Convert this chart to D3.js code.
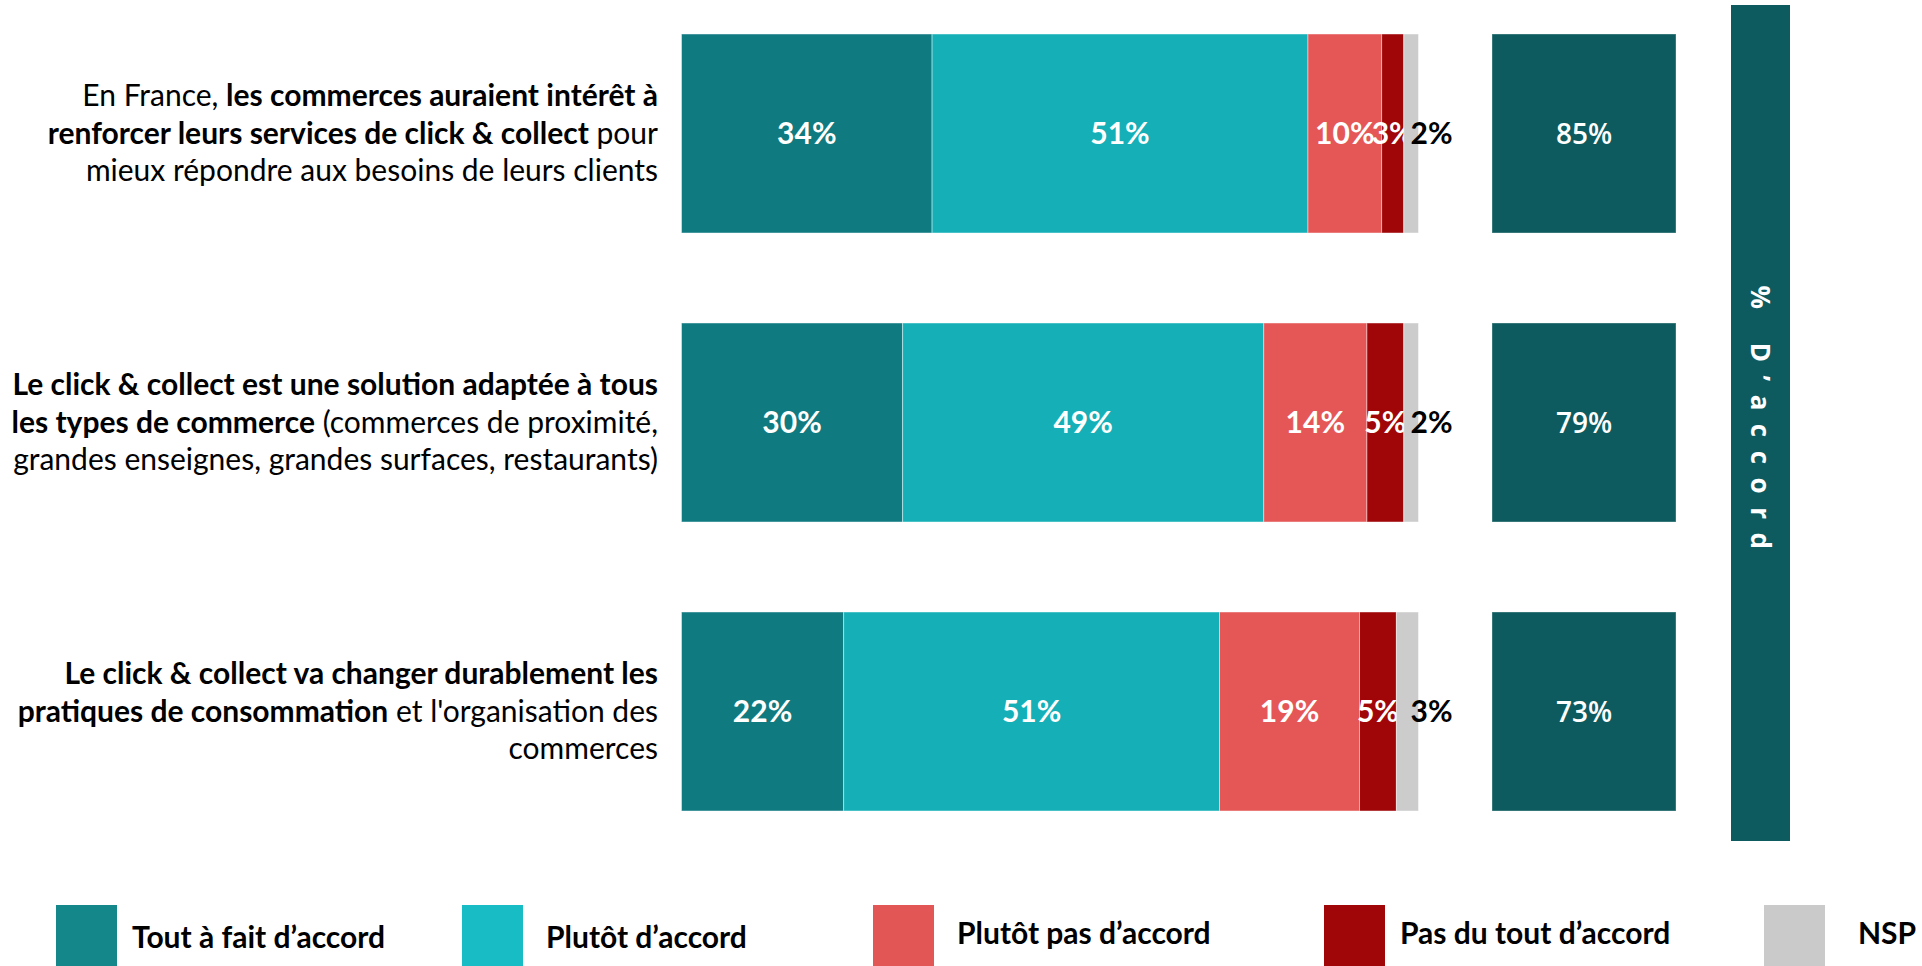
<!DOCTYPE html>
<html>
<head>
<meta charset="utf-8">
<script src="https://cdn.jsdelivr.net/npm/d3@7"></script>
<style>
    body { margin: 0; background: #ffffff; }
    svg text { white-space: pre; }
</style>
</head>
<body>
<div id="click_collect_chart"></div>
<script>
// answer categories (legend order)
const answers = ["Tout à fait d’accord", "Plutôt d’accord", "Plutôt pas d’accord", "Pas du tout d’accord", "NSP"];

// question labels, one entry per line: [text, bold]
const questions = [
    [[["En France, ", false], ["les commerces auraient intérêt à", true]],
     [["renforcer leurs services de click & collect", true], [" pour", false]],
     [["mieux répondre aux besoins de leurs clients", false]]],
    [[["Le click & collect est une solution adaptée à tous", true]],
     [["les types de commerce", true], [" (commerces de proximité,", false]],
     [["grandes enseignes, grandes surfaces, restaurants)", false]]],
    [[["Le click & collect va changer durablement les", true]],
     [["pratiques de consommation", true], [" et l'organisation des", false]],
     [["commerces", false]]]
];

// values in %
const toutAFait = [34, 30, 22];
const plutot = [51, 49, 51];
const plutotPas = [10, 14, 19];
const pasDuTout = [3, 5, 5];
const nsp = [2, 2, 3];
const totalAccord = [85, 79, 73];

const sideTitle = "% D’accord";

function main() {
    const width = 1922, height = 966;

    const barColors = ["#0f7a80", "#14afb7", "#e55757", "#a00507", "#cccccc"];
    const legendColors = ["#13878a", "#18bcc4", "#e35656", "#a00507", "#cacaca"];
    const labelFont = "Lato, 'Open Sans', sans-serif";

    const svg = d3.select("#click_collect_chart")
        .append("svg")
        .attr("width", width)
        .attr("height", height);

    const series = [toutAFait, plutot, plutotPas, pasDuTout, nsp];
    const rows = questions.map(function(q, i) {
        const row = {index: i};
        answers.forEach(function(a, j) { row[a] = series[j][i]; });
        return row;
    });
    const stacked = d3.stack().keys(answers)(rows);

    // scales
    const x = d3.scaleLinear()
        .domain([0, 100])
        .range([681.5, 1418.5]);

    const y = d3.scaleBand()
        .domain(d3.range(questions.length))
        .range([-11, 856])
        .paddingInner(0.3114)
        .paddingOuter(0.1557);

    // stacked bars
    const layers = svg.append("g")
        .selectAll("g")
        .data(stacked)
        .enter()
        .append("g")
        .attr("fill", function(d, i) { return barColors[i]; });

    layers.selectAll("rect")
        .data(function(d) { return d; })
        .enter()
        .append("rect")
        .attr("x", function(d) { return x(d[0]); })
        .attr("y", function(d) { return y(d.data.index); })
        .attr("width", function(d) { return x(d[1]) - x(d[0]); })
        .attr("height", y.bandwidth())
        .style("stroke", "rgba(255,255,255,0.45)")
        .style("stroke-width", 1);

    // value labels
    layers.each(function(layer, li) {
        d3.select(this).selectAll("text")
            .data(layer)
            .enter()
            .append("text")
            .attr("x", function(d) {
                return li === 4 ? x(d[1]) - 8 : (x(d[0]) + x(d[1])) / 2;
            })
            .attr("y", function(d) { return y(d.data.index) + y.bandwidth() / 2; })
            .attr("dy", "0.36em")
            .attr("text-anchor", li === 4 ? "start" : "middle")
            .attr("fill", li === 4 ? "#000000" : "#ffffff")
            .attr("font-family", labelFont)
            .attr("font-weight", "bold")
            .style("font-size", "30px")
            .text(function(d) { return (d[1] - d[0]) + "%"; });
    });

    // question labels
    const qGroups = svg.append("g")
        .selectAll("g")
        .data(questions)
        .enter()
        .append("g");

    qGroups.each(function(lines, qi) {
        const cy = y(qi) + y.bandwidth() / 2;
        const lineH = 37.5;
        d3.select(this).selectAll("text")
            .data(lines)
            .enter()
            .append("text")
            .attr("x", 658)
            .attr("y", function(d, li) { return cy + 10 + (li - 1) * lineH; })
            .attr("text-anchor", "end")
            .attr("fill", "#000000")
            .attr("font-family", labelFont)
            .style("font-size", "30px")
            .selectAll("tspan")
            .data(function(d) { return d; })
            .enter()
            .append("tspan")
            .attr("font-weight", function(d) { return d[1] ? "bold" : "normal"; })
            .text(function(d) { return d[0]; });
    });

    // totals boxes
    const totals = svg.append("g");
    totals.selectAll("rect")
        .data(totalAccord)
        .enter()
        .append("rect")
        .attr("x", 1492)
        .attr("y", function(d, i) { return y(i); })
        .attr("width", 184)
        .attr("height", y.bandwidth())
        .attr("fill", "#0d5b5f")
        .style("stroke", "rgba(255,255,255,0.35)")
        .style("stroke-width", 1);

    totals.selectAll("text")
        .data(totalAccord)
        .enter()
        .append("text")
        .attr("x", 1584)
        .attr("y", function(d, i) { return y(i) + y.bandwidth() / 2; })
        .attr("dy", "0.36em")
        .attr("text-anchor", "middle")
        .attr("fill", "#ffffff")
        .attr("font-family", "'Open Sans', sans-serif")
        .attr("font-weight", 600)
        .style("font-size", "28px")
        .text(function(d) { return d + "%"; });

    // side band "% D'accord"
    svg.append("rect")
        .attr("x", 1731)
        .attr("y", 5)
        .attr("width", 59)
        .attr("height", 836)
        .attr("fill", "#0d5b5f");

    svg.append("text")
        .attr("transform", "translate(1760.5, 418) rotate(90)")
        .attr("text-anchor", "middle")
        .attr("dy", "0.36em")
        .attr("dx", 6)
        .attr("fill", "#ffffff")
        .attr("font-family", "'Open Sans', sans-serif")
        .attr("font-weight", "bold")
        .style("font-size", "26px")
        .style("letter-spacing", "13.5px")
        .text(sideTitle);

    // legend
    const legendX = [56, 462, 873, 1324, 1764];
    const legendTextX = [76, 84, 84, 76, 94];
    const legendY = [948, 948, 944, 944, 944];
    const legend = svg.append("g")
        .selectAll("g")
        .data(answers)
        .enter()
        .append("g")
        .attr("transform", function(d, i) { return `translate(${legendX[i]}, 0)`; });

    legend.append("rect")
        .attr("x", 0)
        .attr("y", 905)
        .attr("width", 61)
        .attr("height", 61)
        .attr("fill", function(d, i) { return legendColors[i]; });

    legend.append("text")
        .attr("x", function(d, i) { return legendTextX[i]; })
        .attr("y", function(d, i) { return legendY[i]; })
        .attr("fill", "#000000")
        .attr("font-family", labelFont)
        .attr("font-weight", "bold")
        .style("font-size", "30px")
        .text(function(d) { return d; });
}

main()
</script>
</body>
</html>
